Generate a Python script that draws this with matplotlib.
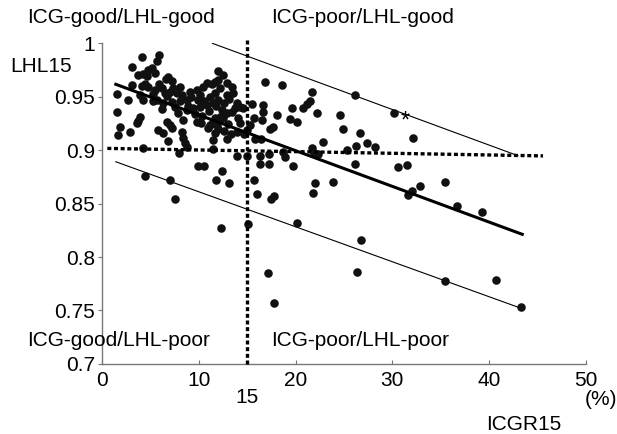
import numpy as np
import matplotlib
matplotlib.use("Agg")
import matplotlib.pyplot as plt

plt.rcParams['font.family'] = ['Liberation Sans', 'DejaVu Sans']

# ICGR15 (%) and LHL15 values
icgr15 = [
    4.05, 5.88, 5.67, 3.02, 3.71, 4.22, 4.74, 5.09, 5.43, 4.57, 6.81, 7.16, 11.98, 12.50,
    1.47, 3.02, 4.05, 4.74, 5.43, 6.12, 6.47, 6.64, 6.98, 8.02, 7.67, 8.19, 8.71, 9.05,
    9.74, 10.09, 10.43, 10.78, 11.29, 11.64, 11.98, 12.84, 13.36, 13.53, 12.84, 11.98,
    11.47, 10.78, 10.09, 9.40, 8.71, 7.84, 7.50, 7.16, 6.29, 5.60, 5.19, 3.88, 4.22,
    13.88, 14.22, 14.57, 13.71, 13.36, 12.84, 12.33, 12.16, 11.64, 11.47, 11.12, 11.81,
    6.12, 8.36, 9.74, 10.95, 1.47, 3.88, 3.71, 3.53, 6.64, 6.98, 7.16, 1.81, 2.84, 1.64,
    5.78, 6.29, 6.81, 8.19, 8.36, 8.53, 8.78, 11.64, 11.47, 12.84, 14.22, 13.88, 14.91,
    4.22, 7.95, 11.47, 13.88, 14.91,
    9.20, 9.90, 10.50, 11.10, 11.60, 12.20, 12.60, 13.10, 9.60, 10.30, 11.00, 11.80,
    12.50, 13.00, 12.00, 10.20, 8.90, 8.00, 7.30, 5.90, 6.60, 5.20, 4.40, 2.60, 14.00,
    14.60, 13.30, 12.60,
    16.29, 17.26, 18.71, 18.88, 16.29, 17.26, 19.67, 9.84, 10.50, 4.40, 6.98, 12.33,
    11.71, 13.12, 15.67, 7.50, 16.02, 17.40, 17.74, 20.09, 15.09, 12.22, 17.09, 17.80,
    16.81, 18.53, 21.64, 26.10, 21.47, 21.12, 20.78, 22.22, 19.57, 19.40, 20.09, 18.02,
    16.64, 16.64, 16.47, 17.67, 17.33, 24.57, 24.91, 26.64, 27.41, 26.29, 25.26, 22.78,
    21.64, 22.33, 15.78, 16.36, 15.43, 21.98, 23.88, 26.10, 15.67, 15.26,
    30.16, 32.16, 28.19, 30.60, 31.47, 21.90,
    21.74, 26.74, 26.36, 32.00, 31.64, 32.84, 35.43, 36.71, 39.26, 35.43, 40.78, 43.36,
]
lhl15 = [
    .9866, .9888, .9835, .9773, .9701, .9710, .9748, .9763, .9723, .9692, .9679, .9648, .9741, .9701,
    .9520, .9607, .9598, .9586, .9561, .9576, .9536, .9505, .9545, .9586, .9530, .9514, .9467, .9545,
    .9561, .9514, .9592, .9623, .9614, .9639, .9654, .9623, .9592, .9536, .9514, .9467,
    .9436, .9421, .9405, .9389, .9374, .9343, .9405, .9452, .9436, .9467, .9461, .9514, .9467,
    .9436, .9405, .9389, .9389, .9358, .9343, .9374, .9312, .9296, .9265, .9234, .9234,
    .9380, .9280, .9265, .9202, .9358, .9312, .9274, .9249, .9265, .9234, .9202, .9218, .9171, .9140,
    .9187, .9156, .9087, .9171, .9109, .9062, .9025, .9156, .9093, .9100, .9249, .9171, .9187,
    .9022, .8969, .9009, .8941, .8947,
    .9500, .9470, .9460, .9500, .9530, .9580, .9440, .9480, .9340, .9320, .9360, .9410,
    .9300, .9240, .9200, .9250, .9410, .9460, .9580, .9620, .9660, .9520, .9620, .9470, .9300,
    .9150, .9150, .9180,
    .8944, .8963, .8984, .8931, .8869, .8869, .8850, .8850, .8850, .8757, .8720, .8807,
    .8720, .8688, .8720, .8539, .8589, .8539, .8570, .8321, .8308, .8268, .7847, .7570,
    .9639, .9607, .9545, .9514, .9461, .9430, .9389, .9343, .9389, .9287, .9265, .9327,
    .9421, .9358, .9280, .9212, .9193, .9327, .9193, .9162, .9069, .9037, .9000, .9078,
    .9016, .8963, .9100, .9106, .9430, .8688, .8704, .8869, .9296, .9234,
    .9343, .9109, .9031, .8844, .8860, .8970,
    .8595, .8159, .7857, .8620, .8579, .8664, .8698, .8477, .8421, .7779, .7788, .7530,
]

# lines drawn on the chart (end points)
reg_x, reg_y = [1.38, 43.45], [0.9614, 0.8212]
upper_x, upper_y = [11.38, 43.0], [0.9997, 0.8947]
lower_x, lower_y = [1.38, 43.35], [0.889, 0.752]
cut_icg = 15
cut_lhl_x, cut_lhl_y = [0.5, 45.6], [0.9015, 0.8945]
star_x, star_y = 31.3, 0.9265

xticks = [0, 10, 20, 30, 40, 50]
yticks = [0.7, 0.75, 0.8, 0.85, 0.9, 0.95, 1.0]
ylabels = ['0.7', '0.75', '0.8', '0.85', '0.9', '0.95', '1']

fig = plt.figure(figsize=(6.17, 4.34), dpi=100)
ax = fig.add_axes([0.1661, 0.1613, 0.7829, 0.7396])

ax.scatter(icgr15, lhl15, s=38, color='#111111', linewidths=0, zorder=3)

ax.plot(reg_x, reg_y, color='black', lw=2.2, zorder=4)
ax.plot(upper_x, upper_y, color='black', lw=0.8)
ax.plot(lower_x, lower_y, color='black', lw=0.8)
ax.plot([cut_icg, cut_icg], [0.7, 1.003], color='black', lw=2.4,
        linestyle=(0, (1.2, 0.8)), clip_on=False, zorder=5)
ax.plot(cut_lhl_x, cut_lhl_y, color='black', lw=2.4,
        linestyle=(0, (1.2, 0.8)), zorder=5)
ax.text(star_x, star_y, '*', fontsize=17, ha='center', va='center')

ax.set_xlim(0, 50)
ax.set_ylim(0.7, 1.0)
ax.set_xticks(xticks)
ax.set_yticks(yticks)
ax.set_yticklabels(ylabels)
for s in ['top', 'right']:
    ax.spines[s].set_visible(False)
for s in ['left', 'bottom']:
    ax.spines[s].set_color('#777777')
    ax.spines[s].set_linewidth(1)
ax.tick_params(axis='y', direction='out', length=3, color='#777777', pad=2.5, labelsize=15)
ax.tick_params(axis='x', direction='in', length=3, color='#777777', pad=5, labelsize=15)

fs = 15
ax.text(-7.76, 1.0234, 'ICG-good/LHL-good', fontsize=fs, va='center', ha='left', clip_on=False)
ax.text(17.49, 1.0234, 'ICG-poor/LHL-good', fontsize=fs, va='center', ha='left', clip_on=False)
ax.text(-7.76, 0.7224, 'ICG-good/LHL-poor', fontsize=fs, va='center', ha='left', clip_on=False)
ax.text(17.49, 0.7224, 'ICG-poor/LHL-poor', fontsize=fs, va='center', ha='left', clip_on=False)
ax.text(-6.4, 0.9776, 'LHL15', fontsize=fs, va='center', ha='center', clip_on=False)
ax.text(15, 0.669, '15', fontsize=fs, va='center', ha='center', clip_on=False)
ax.text(51.6, 0.6664, '(%)', fontsize=fs, va='center', ha='center', clip_on=False)
ax.text(43.6, 0.643, 'ICGR15', fontsize=fs, va='center', ha='center', clip_on=False)

fig.savefig('out.png', dpi=100)
